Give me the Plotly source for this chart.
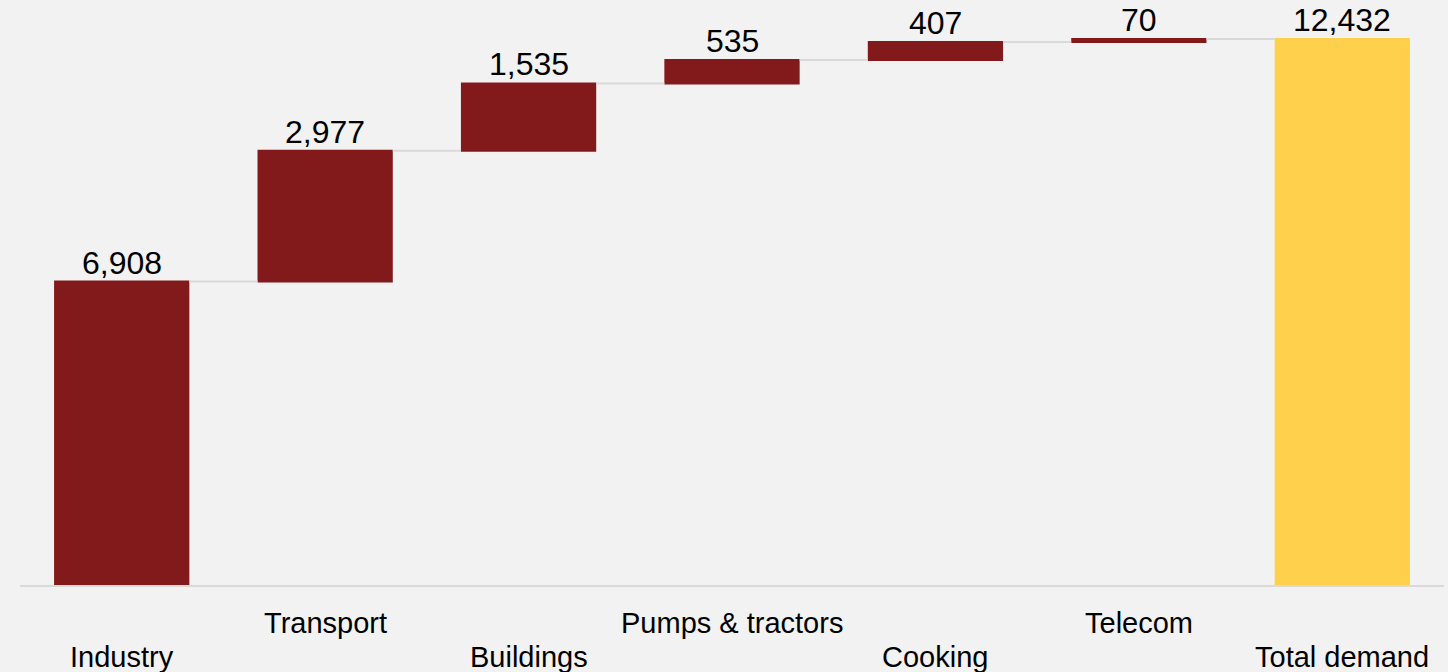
import plotly.graph_objects as go

categories = ["Industry", "Transport", "Buildings", "Pumps & tractors", "Cooking", "Telecom", "Total demand"]
values = [6908, 2977, 1535, 535, 407, 70, 12432]
measures = ["relative", "relative", "relative", "relative", "relative", "relative", "total"]
value_labels = ["6,908", "2,977", "1,535", "535", "407", "70", "12,432"]

RED = "#821A1B"
YELLOW = "#FFD04C"
BG = "#F2F2F2"
FONT = "Liberation Sans, Arial, sans-serif"

fig = go.Figure()
fig.add_trace(go.Waterfall(
    x=list(range(len(categories))),
    y=values,
    measure=measures,
    increasing=dict(marker=dict(color=RED, line=dict(width=0))),
    decreasing=dict(marker=dict(color=RED, line=dict(width=0))),
    totals=dict(marker=dict(color=YELLOW, line=dict(width=0))),
    connector=dict(mode="between", line=dict(color="#D9D9D9", width=2)),
    width=0.665,
    hoverinfo="skip",
))

# bar tops for value labels
tops = []
running = 0
for v, m in zip(values, measures):
    if m == "total":
        tops.append(v)
    else:
        running += v
        tops.append(running)

annotations = []
for i, (t, lab) in enumerate(zip(tops, value_labels)):
    annotations.append(dict(
        x=i, xref="x", y=t, yref="y", text=lab, showarrow=False,
        xanchor="center", yanchor="bottom", yshift=-1,
        font=dict(family=FONT, size=32, color="#000000"),
    ))

for i, c in enumerate(categories):
    upper = (i % 2 == 1)
    annotations.append(dict(
        x=i, xref="x", y=0, yref="paper",
        text=c, showarrow=False,
        xanchor="center", yanchor="top",
        yshift=-20 if upper else -54,
        font=dict(family=FONT, size=29, color="#000000"),
    ))

fig.update_layout(
    width=1448, height=672,
    margin=dict(l=20, r=4, t=0, b=87),
    paper_bgcolor=BG, plot_bgcolor=BG,
    showlegend=False,
    annotations=annotations,
    xaxis=dict(range=[-0.5, 6.5], showticklabels=False, showgrid=False, zeroline=False,
               showline=True, linecolor="#D9D9D9", linewidth=2, ticks=""),
    yaxis=dict(range=[0, 13320], visible=False, showgrid=False, zeroline=False),
    font=dict(family=FONT),
)

fig.write_html("out.html")
